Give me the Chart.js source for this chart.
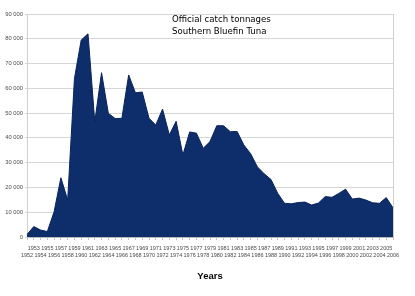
<!DOCTYPE html>
<html>
<head>
<meta charset="utf-8">
<script src="https://cdn.jsdelivr.net/npm/chart.js@4.4.1/dist/chart.umd.min.js"></script>
<style>
  html, body { margin: 0; padding: 0; background: #ffffff; }
  #wrap { width: 415px; height: 296px; }
</style>
</head>
<body>
<div id="wrap"><canvas id="c" width="415" height="296"></canvas></div>
<script>
const years = [
  1952,1953,1954,1955,1956,1957,1958,1959,1960,1961,
  1962,1963,1964,1965,1966,1967,1968,1969,1970,1971,
  1972,1973,1974,1975,1976,1977,1978,1979,1980,1981,
  1982,1983,1984,1985,1986,1987,1988,1989,1990,1991,
  1992,1993,1994,1995,1996,1997,1998,1999,2000,2001,
  2002,2003,2004,2005,2006
];
const catchTonnes = [
  1000,4200,2800,2200,10200,23900,14900,64000,79500,82000,
  46500,66300,49900,47800,47900,65400,58200,58500,47900,45200,
  51600,41200,46700,33100,42400,41900,35800,38500,44900,44900,
  42500,42600,37100,33600,28300,25500,23200,17600,13600,13400,
  13900,14100,12900,13700,16300,16000,17600,19300,15300,15700,
  14900,13800,13600,15900,11800
];
const titleLines = ["Official catch tonnages", "Southern Bluefin Tuna"];
const xAxisTitle = "Years";
const yMin = 0, yMax = 90000, yStep = 10000;

function fmtThousands(v) {
  return String(v).replace(/\B(?=(\d{3})+(?!\d))/g, " ");
}

const titlePlugin = {
  id: 'innerTitle',
  afterDraw(chart) {
    const ctx = chart.ctx;
    ctx.save();
    ctx.fillStyle = '#000000';
    ctx.font = '8.6px "DejaVu Sans"';
    ctx.textAlign = 'left';
    ctx.textBaseline = 'alphabetic';
    ctx.fillText(titleLines[0], 172, 22);
    ctx.fillText(titleLines[1], 172, 34);
    ctx.restore();
  }
};

const lastIdx = years.length - 1;

new Chart(document.getElementById('c'), {
  type: 'line',
  data: {
    labels: years.map(String),
    datasets: [{
      data: catchTonnes,
      fill: 'origin',
      backgroundColor: '#0d2e6b',
      borderColor: '#0a2459',
      borderWidth: 1,
      pointRadius: 0,
      tension: 0
    }]
  },
  options: {
    responsive: false,
    animation: false,
    layout: { padding: { left: 0, right: 22, top: 14, bottom: 0 } },
    plugins: {
      legend: { display: false },
      tooltip: { enabled: false }
    },
    scales: {
      x: {
        type: 'category',
        offset: false,
        afterFit(scale) { scale.height = 59; },
        border: { display: true, color: '#b8b8b8', width: 1 },
        grid: {
          drawOnChartArea: true,
          drawTicks: true,
          tickLength: 3,
          tickColor: '#c4c4c4',
          color: (c) => (c.index === 0 || c.index === lastIdx) ? '#cfcfcf' : 'rgba(0,0,0,0)'
        },
        ticks: {
          autoSkip: false,
          maxRotation: 0,
          minRotation: 0,
          padding: 5,
          color: '#4a4a4a',
          font: { family: 'Liberation Sans', size: 5.5, lineHeight: 1.3 },
          callback(value, index) {
            const y = years[index];
            return (y % 2 === 1) ? [String(y), ''] : ['', String(y)];
          }
        },
        title: {
          display: true,
          text: xAxisTitle,
          color: '#000000',
          font: { family: 'Liberation Sans', size: 9.5, weight: 'bold' },
          padding: { top: 0, bottom: 14 }
        }
      },
      y: {
        min: yMin,
        max: yMax,
        afterFit(scale) { scale.width = 27; },
        border: { display: true, color: '#cfcfcf', width: 1 },
        grid: {
          color: '#d6d6d6',
          lineWidth: 1,
          drawTicks: true,
          tickLength: 2,
          tickColor: '#d6d6d6'
        },
        ticks: {
          stepSize: yStep,
          padding: 2,
          color: '#4a4a4a',
          font: { family: 'Liberation Sans', size: 5.8 },
          callback(v) { return fmtThousands(v); }
        }
      }
    }
  },
  plugins: [titlePlugin]
});
</script>
</body>
</html>
